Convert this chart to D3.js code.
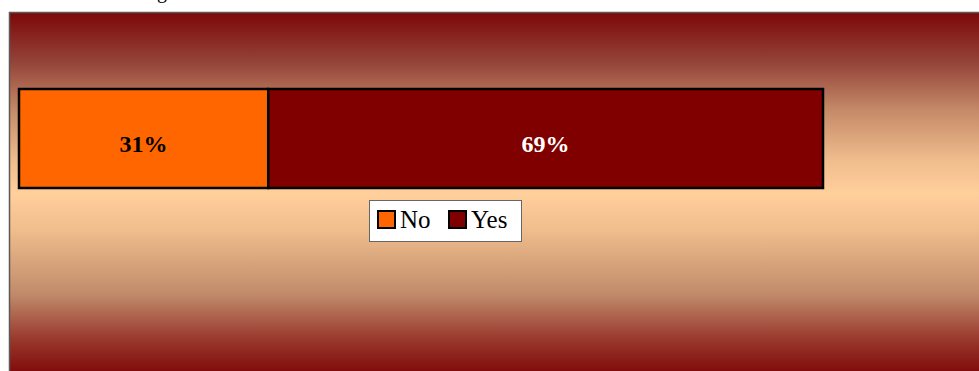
<!DOCTYPE html>
<html>
<head>
<meta charset="utf-8">
<script src="https://cdn.jsdelivr.net/npm/d3@7"></script>
<style>
  html, body { margin: 0; padding: 0; background: #fff; }
  svg { display: block; }
</style>
</head>
<body>
<svg></svg>
<script>
const width = 979;
const height = 371;

// data
const categories = ['No', 'Yes'];
const shares = [31, 69];
const colors = ['#ff6600', '#800000'];
const labelColors = ['#000', '#fff'];

const svg = d3.select('svg')
  .attr('width', width)
  .attr('height', height);

// background gradient (dark red -> peach -> dark red)
const defs = svg.append('defs');
const grad = defs.append('linearGradient')
  .attr('id', 'bg')
  .attr('x1', 0).attr('y1', 0)
  .attr('x2', 0).attr('y2', 1);
[[0, '#7c0808'], [0.14, '#95453a'], [0.27, '#c58a68'], [0.41, '#f0bd8d'], [0.5, '#ffcf9c'],
 [0.6, '#f0bd8d'], [0.78, '#c08a6a'], [0.9, '#9a3a2e'], [1, '#7e0808']]
  .forEach(([o, c]) => grad.append('stop').attr('offset', o).attr('stop-color', c));

// cut-off title fragment at the very top (only its descender shows)
svg.append('text')
  .attr('x', 157)
  .attr('y', -2)
  .attr('font-family', 'Liberation Serif, serif')
  .attr('font-size', 20)
  .attr('fill', '#000')
  .text('g');

svg.append('rect')
  .attr('x', 9.5)
  .attr('y', 12.5)
  .attr('width', 980)
  .attr('height', 362)
  .attr('fill', 'url(#bg)')
  .attr('stroke', '#5a5a5a')
  .attr('stroke-width', 1.5);

const x = d3.scaleLinear()
  .domain([0, 100])
  .range([18, 822]);

const y = d3.scaleBand()
  .domain(['all'])
  .range([88, 189]);

let acc = 0;
const segs = categories.map((c, i) => {
  const s = { cat: c, v: shares[i], x0: acc, x1: acc + shares[i], i };
  acc += shares[i];
  return s;
});

svg.selectAll('rect.seg')
  .data(segs)
  .enter()
  .append('rect')
    .attr('class', 'seg')
    .attr('x', d => x(d.x0) + 1)
    .attr('y', y('all') + 1)
    .attr('width', d => x(d.x1) - x(d.x0))
    .attr('height', y.bandwidth() - 2)
    .attr('fill', d => colors[d.i])
    .attr('stroke', '#000')
    .attr('stroke-width', 2.5);

svg.selectAll('text.lbl')
  .data(segs)
  .enter()
  .append('text')
    .attr('class', 'lbl')
    .attr('x', d => (x(d.x0) + x(d.x1)) / 2 + 1)
    .attr('y', 152)
    .attr('text-anchor', 'middle')
    .attr('font-family', 'Liberation Serif, serif')
    .attr('font-weight', 'bold')
    .attr('font-size', 24)
    .attr('fill', d => labelColors[d.i])
    .text(d => d.v + '%');

// legend
const legend = svg.append('g');
legend.append('rect')
  .attr('x', 369.5)
  .attr('y', 200.5)
  .attr('width', 152)
  .attr('height', 41)
  .attr('fill', '#fff')
  .attr('stroke', '#666')
  .attr('stroke-width', 1);

const legX = [378, 449];
const item = legend.selectAll('g.item')
  .data(categories)
  .enter()
  .append('g')
    .attr('class', 'item')
    .attr('transform', (d, i) => `translate(${legX[i]},211)`);

item.append('rect')
  .attr('width', 17)
  .attr('height', 17)
  .attr('fill', (d, i) => colors[i])
  .attr('stroke', '#000')
  .attr('stroke-width', 2);

item.append('text')
  .attr('x', 22)
  .attr('y', 17)
  .attr('font-family', 'Liberation Serif, serif')
  .attr('font-size', 25)
  .attr('fill', '#000')
  .text(d => d);
</script>
</body>
</html>
